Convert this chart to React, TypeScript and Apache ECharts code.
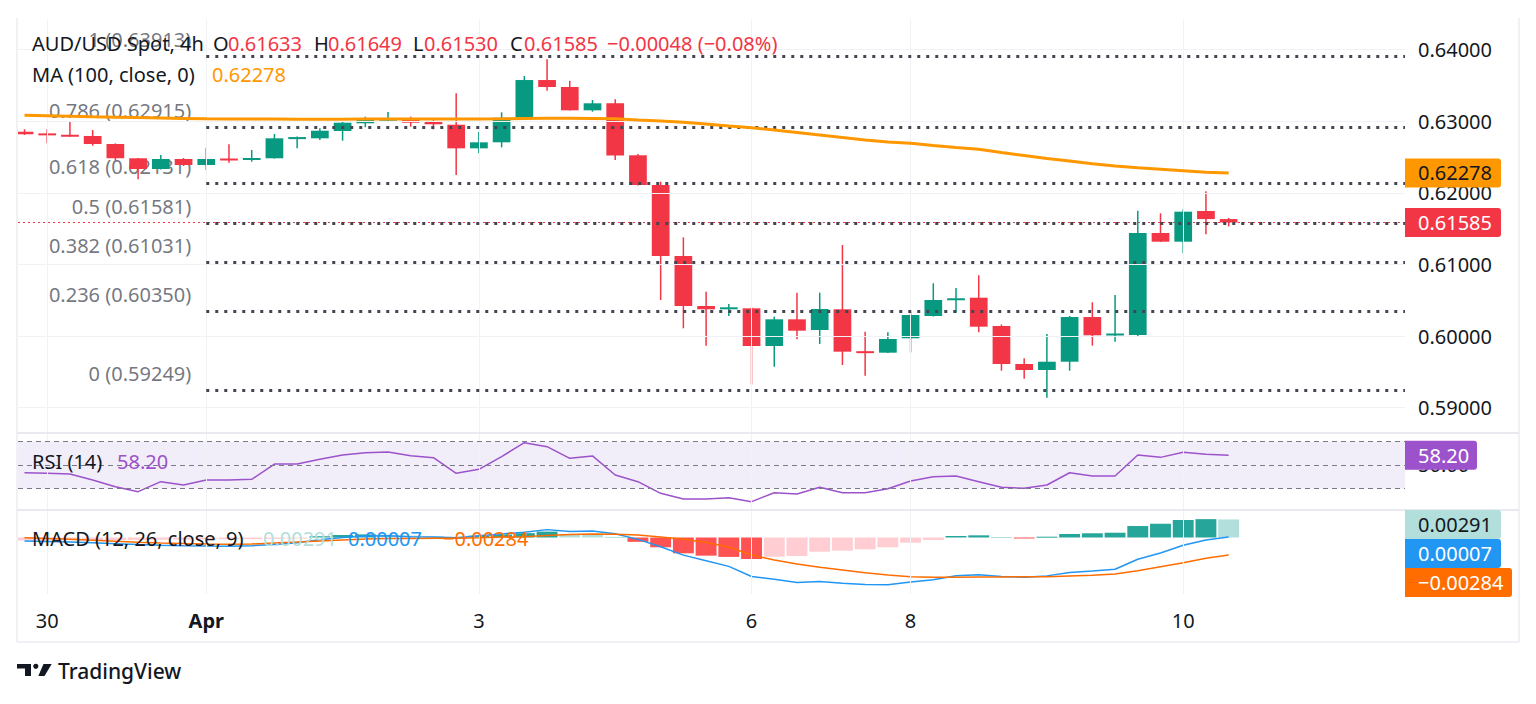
import { useEffect, useRef } from "react";
import * as echarts from "echarts";

// AUD/USD 4h candles, oldest first (index 0 is the partly clipped one on the left)
const opens = [0.62853, 0.6283, 0.62812, 0.62793, 0.62681, 0.62482, 0.62332, 0.62472, 0.62388, 0.62479, 0.62475, 0.62482, 0.62768, 0.62761, 0.62863, 0.62971, 0.63024, 0.6304, 0.62993, 0.62951, 0.62621, 0.62705, 0.63049, 0.63575, 0.63478, 0.63152, 0.6325, 0.62524, 0.62109, 0.61117, 0.60419, 0.60373, 0.60387, 0.5986, 0.60233, 0.60084, 0.60373, 0.59788, 0.59767, 0.59968, 0.60279, 0.60513, 0.60535, 0.6014, 0.59609, 0.59525, 0.59641, 0.60265, 0.60021, 0.60014, 0.61439, 0.61317, 0.61746, 0.61633];
const highs = [0.62887, 0.62891, 0.62993, 0.62877, 0.6269, 0.62486, 0.62528, 0.62486, 0.6263, 0.62677, 0.62598, 0.62821, 0.62785, 0.62901, 0.63003, 0.63063, 0.63128, 0.63063, 0.63026, 0.6339, 0.62853, 0.63124, 0.63631, 0.63864, 0.63566, 0.63296, 0.63306, 0.62542, 0.62155, 0.61378, 0.60619, 0.60447, 0.60405, 0.6027, 0.60605, 0.60605, 0.61271, 0.6006, 0.60052, 0.60331, 0.60736, 0.6067, 0.60848, 0.60161, 0.59689, 0.60028, 0.60279, 0.60471, 0.60573, 0.6175, 0.61714, 0.6177, 0.62021, 0.61649];
const lows = [0.62807, 0.62691, 0.62783, 0.62658, 0.62448, 0.62188, 0.62325, 0.62374, 0.62318, 0.6242, 0.62434, 0.62479, 0.62621, 0.62737, 0.62728, 0.62915, 0.62989, 0.62923, 0.62887, 0.62249, 0.62552, 0.62635, 0.63045, 0.63426, 0.63149, 0.63133, 0.62458, 0.62102, 0.60503, 0.60108, 0.59865, 0.60279, 0.59325, 0.59571, 0.59954, 0.59888, 0.59595, 0.59446, 0.59763, 0.59772, 0.60272, 0.60325, 0.60052, 0.59515, 0.59404, 0.59138, 0.59515, 0.59865, 0.5992, 0.5999, 0.61313, 0.61155, 0.6142, 0.6153];
const closes = [0.62817, 0.62812, 0.62793, 0.62681, 0.62482, 0.62332, 0.62472, 0.62388, 0.62472, 0.62465, 0.62486, 0.62761, 0.62778, 0.62867, 0.62979, 0.63026, 0.63035, 0.62979, 0.62957, 0.62621, 0.62705, 0.63049, 0.63575, 0.63478, 0.63152, 0.6325, 0.62521, 0.62109, 0.61117, 0.60419, 0.60373, 0.60401, 0.5986, 0.60233, 0.60074, 0.60377, 0.59781, 0.59774, 0.59958, 0.60293, 0.60503, 0.60527, 0.6013, 0.59609, 0.59525, 0.59641, 0.60265, 0.6001, 0.60035, 0.61439, 0.61317, 0.61736, 0.61633, 0.61585];

const ma100 = [0.63082, 0.63075, 0.63068, 0.63061, 0.63056, 0.6305, 0.63045, 0.63039, 0.63033, 0.6303, 0.63029, 0.63029, 0.63028, 0.63028, 0.63028, 0.63029, 0.63029, 0.6303, 0.63031, 0.6303, 0.63031, 0.63034, 0.63038, 0.6304, 0.6304, 0.63039, 0.63033, 0.63017, 0.63003, 0.62985, 0.62961, 0.62933, 0.62909, 0.62877, 0.62842, 0.62807, 0.62772, 0.62737, 0.62709, 0.62691, 0.62661, 0.62633, 0.62607, 0.62563, 0.62521, 0.62479, 0.62444, 0.62406, 0.62374, 0.62349, 0.62328, 0.62307, 0.62286, 0.62278];

const rsi14 = [43.4, 42.9, 42.3, 37.2, 31.5, 27.3, 35.8, 33.0, 37.2, 37.2, 37.8, 50.8, 50.8, 54.8, 58.5, 60.5, 61.1, 57.9, 56.2, 42.9, 46.3, 57.1, 69.0, 65.6, 55.7, 57.7, 41.5, 35.8, 25.9, 21.1, 21.1, 22.2, 18.8, 26.4, 25.3, 31.0, 26.4, 26.4, 29.8, 36.4, 40.0, 40.6, 35.8, 31.0, 30.2, 33.0, 43.4, 40.6, 40.6, 58.5, 56.5, 60.8, 59.1, 58.2];

const macdLine = [-0.00055, -0.00064, -0.00074, -0.00086, -0.001, -0.00114, -0.00125, -0.00132, -0.00137, -0.0014, -0.00133, -0.00111, -0.00085, -0.00036, 0, 0.00026, 0.00029, 0.00014, 0.00007, -0.00003, 0.00027, 0.00058, 0.00083, 0.00127, 0.00098, 0.00103, 0.00062, -0.0003, -0.0015, -0.00284, -0.00374, -0.00466, -0.00629, -0.00673, -0.00725, -0.00709, -0.00737, -0.00758, -0.00763, -0.00716, -0.00682, -0.00618, -0.00602, -0.00629, -0.0064, -0.00619, -0.00565, -0.00542, -0.00512, -0.0035, -0.00249, -0.00124, -0.00039, 0.00007];
const signalLine = [-0.00005, -0.00016, -0.00029, -0.00044, -0.0006, -0.00076, -0.00089, -0.00098, -0.00105, -0.0011, -0.00105, -0.00089, -0.00073, -0.00056, -0.0004, -0.00024, -0.00016, -0.00016, -0.00013, -0.00013, -0.00003, 0.00008, 0.00013, 0.00032, 0.00048, 0.00058, 0.00052, 0.0004, 0.00008, -0.00029, -0.00081, -0.00153, -0.00282, -0.00363, -0.00427, -0.0048, -0.00524, -0.00568, -0.00605, -0.00632, -0.00642, -0.00642, -0.00637, -0.00637, -0.00632, -0.00632, -0.00621, -0.0061, -0.00589, -0.00535, -0.00471, -0.00406, -0.00335, -0.00284];
const macdHist = [-0.0005, -0.00048, -0.00045, -0.00042, -0.0004, -0.00038, -0.00036, -0.00034, -0.00032, -0.0003, -0.00028, -0.00022, -0.00012, 0.0002, 0.0004, 0.0005, 0.00045, 0.0003, 0.0002, 0.0001, 0.0003, 0.0005, 0.0007, 0.00095, 0.0005, 0.00045, 0.0001, -0.0007, -0.00158, -0.00255, -0.00293, -0.00313, -0.00347, -0.0031, -0.00298, -0.00229, -0.00213, -0.0019, -0.00158, -0.00084, -0.0004, 0.00024, 0.00035, 0.00008, -0.00008, 0.00013, 0.00056, 0.00068, 0.00077, 0.00185, 0.00222, 0.00282, 0.00296, 0.00291];

// time axis: day labels and the candle index they sit on
const dayLabels = ["30", "Apr", "3", "6", "8", "10"];
const dayIndex = [1, 8, 20, 32, 39, 51];

const priceTicks = [0.59, 0.6, 0.61, 0.62, 0.63, 0.64];
const fibRatios = ["1", "0.786", "0.618", "0.5", "0.382", "0.236", "0"];
const fibPrices = [0.63913, 0.62915, 0.62131, 0.61581, 0.61031, 0.6035, 0.59249];
const fibStart = 8;

const UP = "#089981";
const DOWN = "#f23645";
const MA_COL = "#ff9800";
const RSI_COL = "#9c52cb";
const MACD_COL = "#2196f3";
const SIG_COL = "#ff6d00";
const TXT = "#131722";
const GRIDC = "#f0f2f6";
const BORDER = "#e0e3eb";
const FONT = "'Noto Sans', sans-serif";
const FS = 20;

// layout: candle index -> pixel
const X0 = 24.5;
const STEP = 22.72;
const PLOT_L = 18;
const PLOT_R = 1405;
const X_MIN = (PLOT_L - X0) / STEP;
const X_MAX = (PLOT_R - X0) / STEP;

const minus = (v: number, d: number) => (v < 0 ? "\u2212" : "") + Math.abs(v).toFixed(d);

const histColors = macdHist.map((v, i) => {
  const prev = i > 0 ? macdHist[i - 1] : v - 1;
  if (v >= 0) return v > prev ? "#26a69a" : "#b2dfdb";
  return v < prev ? "#ff5252" : "#ffcdd2";
});

const App = () => {
  const chartRef = useRef<HTMLDivElement>(null);

  useEffect(() => {
    const chart = echarts.init(chartRef.current!, null, { renderer: "svg" });
    const last = closes.length - 1;
    const xy = (arr: number[]) => arr.map((v, i) => [i, v]);
    const vLines = dayIndex.map((d) => ({ xAxis: d }));
    const helperLine = (grid: number, y: number, data: any[]) => ({
      type: "line",
      xAxisIndex: grid,
      yAxisIndex: grid,
      data: [[0, y]],
      symbol: "none",
      silent: true,
      z: 1,
      lineStyle: { opacity: 0 },
      markLine: {
        silent: true,
        symbol: "none",
        label: { show: false },
        lineStyle: { color: GRIDC, width: 1, type: "solid" },
        data,
      },
    });
    const xAx = (grid: number, show: boolean) => ({
      type: "value",
      gridIndex: grid,
      min: X_MIN,
      max: X_MAX,
      show,
      axisLine: { show: false },
      axisTick: { show: false },
      splitLine: { show: false },
      axisLabel: {
        show,
        customValues: dayIndex,
        margin: 16,
        color: TXT,
        fontSize: FS,
        fontFamily: FONT,
        formatter: (v: number) => {
          const k = dayIndex.indexOf(Math.round(v));
          if (k < 0) return "";
          return dayLabels[k] === "Apr" ? "{b|Apr}" : dayLabels[k];
        },
        rich: { b: { fontWeight: "bold", fontSize: FS, fontFamily: FONT, color: TXT } },
      },
    });

    chart.setOption({
      animation: false,
      backgroundColor: "#ffffff",
      textStyle: { fontFamily: FONT },
      grid: [
        { left: PLOT_L, right: 1536 - PLOT_R, top: 20, height: 413 },
        { left: PLOT_L, right: 1536 - PLOT_R, top: 433, height: 77 },
        { left: PLOT_L, right: 1536 - PLOT_R, top: 510, height: 84 },
      ],
      xAxis: [xAx(0, false), xAx(1, false), xAx(2, true)],
      yAxis: [
        {
          type: "value",
          gridIndex: 0,
          position: "right",
          min: 0.586453,
          max: 0.644134,
          axisLine: { show: false },
          axisTick: { show: false },
          splitLine: { show: false },
          axisLabel: {
            customValues: priceTicks,
            formatter: (v: number) => v.toFixed(5),
            color: TXT,
            fontSize: FS,
            fontFamily: FONT,
            margin: 13,
          },
        },
        {
          type: "value",
          gridIndex: 1,
          position: "right",
          min: 11.7,
          max: 77.23,
          axisLine: { show: false },
          axisTick: { show: false },
          splitLine: { show: false },
          axisLabel: {
            customValues: [50],
            formatter: (v: number) => v.toFixed(2),
            color: TXT,
            fontSize: FS,
            fontFamily: FONT,
            margin: 13,
          },
        },
        {
          type: "value",
          gridIndex: 2,
          position: "right",
          min: -0.009113,
          max: 0.004435,
          show: false,
          splitLine: { show: false },
        },
      ],
      series: [
        helperLine(0, priceTicks[0], [...priceTicks.map((p) => ({ yAxis: p })), ...vLines]),
        {
          type: "scatter",
          xAxisIndex: 0,
          yAxisIndex: 0,
          data: fibPrices.map((p) => [fibStart, p]),
          symbolSize: 0,
          silent: true,
          z: 2,
          label: {
            show: true,
            position: "left",
            distance: 15,
            offset: [0, -16.5],
            color: "#50535e",
            fontSize: FS,
            fontFamily: FONT,
            formatter: (p: any) => `${fibRatios[p.dataIndex]} (${fibPrices[p.dataIndex].toFixed(5)})`,
          },
          markLine: {
            silent: true,
            symbol: "none",
            label: { show: false },
            lineStyle: { color: "#434651", width: 3, type: [3, 6] },
            data: fibPrices.map((p) => [{ coord: [fibStart, p] }, { coord: [X_MAX, p] }]),
          },
        },
        {
          // last price line across the pane
          type: "line",
          xAxisIndex: 0,
          yAxisIndex: 0,
          data: [[X_MIN, closes[last]], [X_MAX, closes[last]]],
          symbol: "none",
          silent: true,
          z: 3,
          lineStyle: { color: DOWN, width: 1.2, type: [2, 3] },
        },
        {
          type: "custom",
          xAxisIndex: 0,
          yAxisIndex: 0,
          clip: true,
          z: 4,
          silent: true,
          data: opens.map((o, i) => [i, o, closes[i], lows[i], highs[i]]),
          encode: { x: 0, y: [1, 2, 3, 4] },
          renderItem: (_params: any, api: any) => {
            const i = api.value(0);
            const o = api.value(1);
            const c = api.value(2);
            const pO = api.coord([i, o]);
            const pC = api.coord([i, c]);
            const pL = api.coord([i, api.value(3)]);
            const pH = api.coord([i, api.value(4)]);
            const w = api.size([1, 0])[0] * 0.78;
            const col = c >= o ? UP : DOWN;
            const top = Math.min(pO[1], pC[1]);
            const h = Math.max(Math.abs(pO[1] - pC[1]), 2);
            return {
              type: "group",
              children: [
                { type: "rect", shape: { x: pO[0] - 0.75, y: pH[1], width: 1.5, height: pL[1] - pH[1] }, style: { fill: col } },
                { type: "rect", shape: { x: pO[0] - w / 2, y: top, width: w, height: h }, style: { fill: col } },
              ],
            };
          },
        },
        {
          type: "line",
          xAxisIndex: 0,
          yAxisIndex: 0,
          data: xy(ma100),
          symbol: "none",
          silent: true,
          z: 5,
          lineStyle: { color: MA_COL, width: 3 },
        },
        helperLine(1, 50, vLines),
        {
          type: "line",
          xAxisIndex: 1,
          yAxisIndex: 1,
          data: xy(rsi14),
          symbol: "none",
          silent: true,
          z: 3,
          lineStyle: { color: RSI_COL, width: 1.5 },
          markArea: {
            silent: true,
            itemStyle: { color: "rgba(126,87,194,0.1)" },
            data: [[{ yAxis: 70 }, { yAxis: 30 }]],
          },
          markLine: {
            silent: true,
            symbol: "none",
            label: { show: false },
            lineStyle: { color: "#787b86", width: 1, type: [5, 4] },
            data: [{ yAxis: 70 }, { yAxis: 50 }, { yAxis: 30 }],
          },
        },
        helperLine(2, 0, vLines),
        {
          type: "custom",
          xAxisIndex: 2,
          yAxisIndex: 2,
          clip: true,
          z: 2,
          silent: true,
          data: xy(macdHist),
          encode: { x: 0, y: 1 },
          renderItem: (params: any, api: any) => {
            const i = api.value(0);
            const p0 = api.coord([i, 0]);
            const p1 = api.coord([i, api.value(1)]);
            const w = api.size([1, 0])[0] * 0.92;
            return {
              type: "rect",
              shape: { x: p0[0] - w / 2, y: Math.min(p0[1], p1[1]), width: w, height: Math.max(Math.abs(p1[1] - p0[1]), 1) },
              style: { fill: histColors[params.dataIndex] },
            };
          },
        },
        {
          type: "line",
          xAxisIndex: 2,
          yAxisIndex: 2,
          data: xy(macdLine),
          symbol: "none",
          silent: true,
          z: 3,
          lineStyle: { color: MACD_COL, width: 1.5 },
        },
        {
          type: "line",
          xAxisIndex: 2,
          yAxisIndex: 2,
          data: xy(signalLine),
          symbol: "none",
          silent: true,
          z: 3,
          lineStyle: { color: SIG_COL, width: 1.5 },
        },
      ],
    });

    // overlay texts and price boxes
    const yPix = (axis: number, v: number) => chart.convertToPixel({ yAxisIndex: axis }, v) as number;
    const txt = (x: number, y: number, text: string, fill: string, extra: any = {}) => ({
      type: "text",
      x,
      y,
      z: 100,
      silent: true,
      style: { text, fill, fontSize: FS, fontFamily: FONT, verticalAlign: "middle", align: "left", ...extra },
    });
    const box = (yc: number, w: number, fill: string, color: string, text: string) => [
      {
        type: "rect",
        z: 110,
        silent: true,
        shape: { x: PLOT_R, y: yc - 14.5, width: w, height: 29, r: [0, 3, 3, 0] },
        style: { fill },
      },
      { ...txt(PLOT_R + 13, yc, text, color), z: 111 },
    ];

    const chg = closes[last] - closes[last - 1];
    const pct = (chg / closes[last - 1]) * 100;
    const ohlcCol = closes[last] >= opens[last] ? UP : DOWN;

    const h1 = Math.max(yPix(2, macdHist[last]), 510 + 14.5);
    const h2 = Math.max(yPix(2, macdLine[last]), h1 + 29);
    const h3 = Math.max(yPix(2, signalLine[last]), h2 + 29);

    const graphics: any[] = [
      // frame and pane separators
      { type: "line", z: 90, silent: true, shape: { x1: 17, y1: 18, x2: 17, y2: 642 }, style: { stroke: BORDER, lineWidth: 1 } },
      { type: "line", z: 90, silent: true, shape: { x1: 1519, y1: 18, x2: 1519, y2: 642 }, style: { stroke: BORDER, lineWidth: 1 } },
      { type: "line", z: 90, silent: true, shape: { x1: 17, y1: 642, x2: 1519, y2: 642 }, style: { stroke: BORDER, lineWidth: 1 } },
      { type: "line", z: 90, silent: true, shape: { x1: 17, y1: 433, x2: 1519, y2: 433 }, style: { stroke: BORDER, lineWidth: 1.5 } },
      { type: "line", z: 90, silent: true, shape: { x1: 17, y1: 510, x2: 1519, y2: 510 }, style: { stroke: BORDER, lineWidth: 1.5 } },
      // header
      txt(32, 43, "AUD/USD Spot, 4h", TXT),
      txt(213, 43, "O", TXT),
      txt(228, 43, opens[last].toFixed(5), ohlcCol),
      txt(314, 43, "H", TXT),
      txt(328, 43, highs[last].toFixed(5), ohlcCol),
      txt(413, 43, "L", TXT),
      txt(424, 43, lows[last].toFixed(5), ohlcCol),
      txt(510, 43, "C", TXT),
      txt(524, 43, closes[last].toFixed(5), ohlcCol),
      txt(607, 43, `${minus(chg, 5)} (${pct < 0 ? "\u2212" : "+"}${Math.abs(pct).toFixed(2)}%)`, ohlcCol),
      txt(32, 74, "MA (100, close, 0)", TXT),
      txt(212, 74, ma100[last].toFixed(5), MA_COL),
      txt(32, 461, "RSI (14)", TXT),
      txt(117, 461, rsi14[last].toFixed(2), RSI_COL),
      txt(32, 538, "MACD (12, 26, close, 9)", TXT),
      txt(263, 538, minus(macdHist[last], 5), "#b2dfdb"),
      txt(348, 538, minus(macdLine[last], 5), MACD_COL),
      txt(443, 538, minus(signalLine[last], 5), SIG_COL),
      // right scale boxes
      ...box(yPix(0, ma100[last]), 96, MA_COL, TXT, ma100[last].toFixed(5)),
      ...box(yPix(0, closes[last]), 96, DOWN, "#ffffff", closes[last].toFixed(5)),
      ...box(yPix(1, rsi14[last]), 72, RSI_COL, "#ffffff", rsi14[last].toFixed(2)),
      ...box(h1, 96, "#b2dfdb", TXT, minus(macdHist[last], 5)),
      ...box(h2, 96, MACD_COL, "#ffffff", minus(macdLine[last], 5)),
      ...box(h3, 107, SIG_COL, "#ffffff", minus(signalLine[last], 5)),
      // TradingView mark
      { type: "polygon", z: 100, silent: true, shape: { points: [[17, 664], [31, 664], [31, 676], [25, 676], [25, 668.5], [17, 668.5]] }, style: { fill: TXT } },
      { type: "circle", z: 100, silent: true, shape: { cx: 35.8, cy: 666.3, r: 2.6 }, style: { fill: TXT } },
      { type: "polygon", z: 100, silent: true, shape: { points: [[43.5, 664], [51.7, 664], [44.5, 676], [38.3, 676]] }, style: { fill: TXT } },
      txt(58, 671, "TradingView", TXT, { fontSize: 21, fontWeight: 500 }),
    ];
    chart.setOption({ graphic: graphics });

    return () => {
      chart.dispose();
    };
  }, []);

  return (
    <div
      ref={chartRef}
      style={{ position: "fixed", left: 0, top: 0, width: 1536, height: 704, background: "#ffffff" }}
    />
  );
};

export default App;
